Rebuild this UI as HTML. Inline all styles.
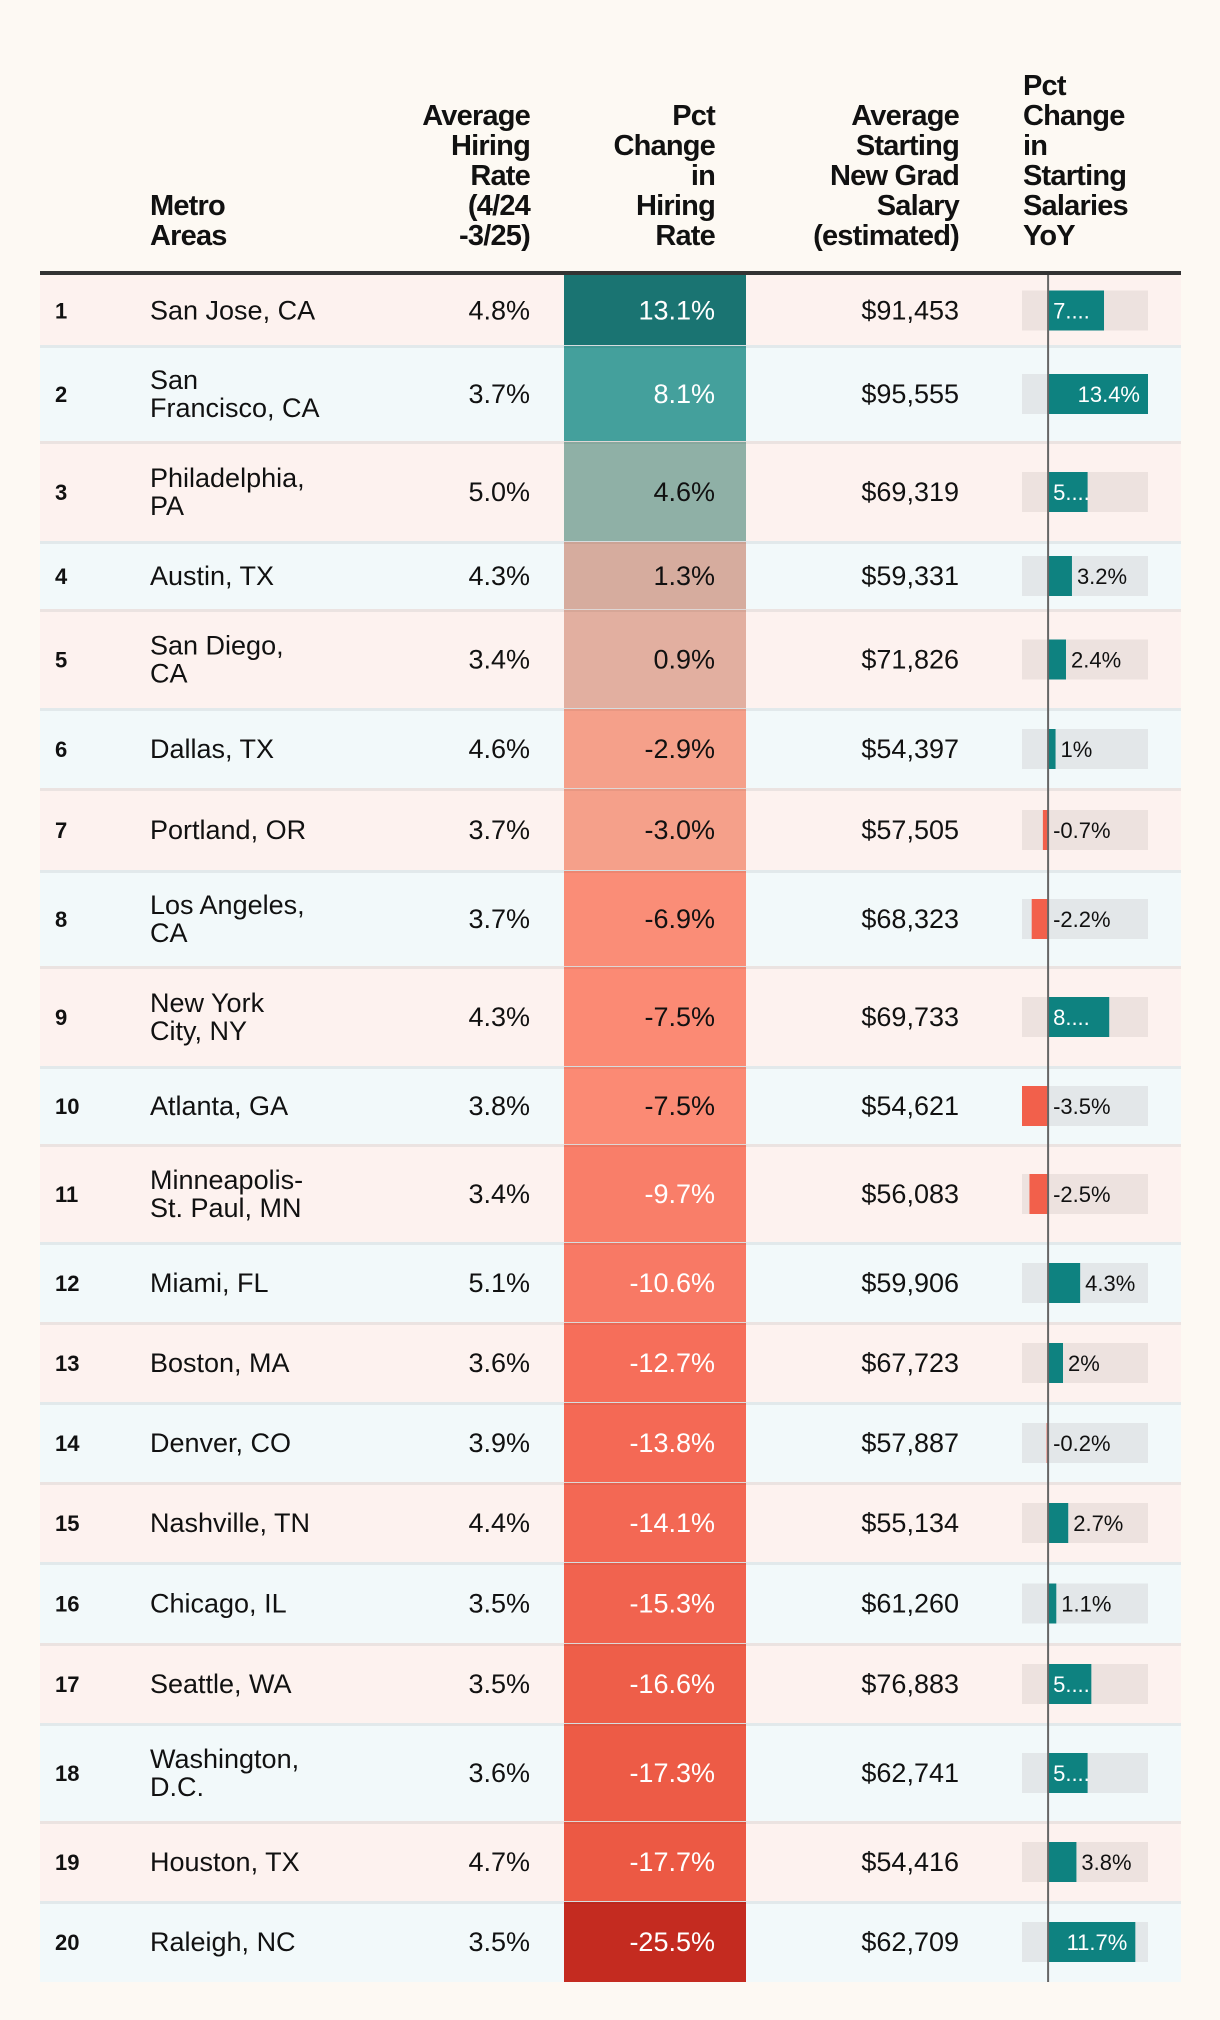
<!DOCTYPE html>
<html><head><meta charset="utf-8">
<style>
html,body{margin:0;padding:0;background:#fdf9f3;}
svg{display:block;font-family:"Liberation Sans",sans-serif;}
</style></head>
<body>
<svg id="chart" width="1220" height="2020" viewBox="0 0 1220 2020" xmlns="http://www.w3.org/2000/svg">
<rect x="0" y="0" width="1220" height="2020" fill="#fdf9f3"/>
<g id="header"></g>
<g id="rows"></g>
</svg>
<script>
const metros = ["San Jose, CA","San\nFrancisco, CA","Philadelphia,\nPA","Austin, TX","San Diego,\nCA","Dallas, TX","Portland, OR","Los Angeles,\nCA","New York\nCity, NY","Atlanta, GA","Minneapolis-\nSt. Paul, MN","Miami, FL","Boston, MA","Denver, CO","Nashville, TN","Chicago, IL","Seattle, WA","Washington,\nD.C.","Houston, TX","Raleigh, NC"];
const hiringRate = [4.8,3.7,5.0,4.3,3.4,4.6,3.7,3.7,4.3,3.8,3.4,5.1,3.6,3.9,4.4,3.5,3.5,3.6,4.7,3.5];
const hiringChange = [13.1,8.1,4.6,1.3,0.9,-2.9,-3.0,-6.9,-7.5,-7.5,-9.7,-10.6,-12.7,-13.8,-14.1,-15.3,-16.6,-17.3,-17.7,-25.5];
const salary = [91453,95555,69319,59331,71826,54397,57505,68323,69733,54621,56083,59906,67723,57887,55134,61260,76883,62741,54416,62709];
const salaryChange = [7.5,13.4,5.3,3.2,2.4,1,-0.7,-2.2,8.2,-3.5,-2.5,4.3,2,-0.2,2.7,1.1,5.8,5.3,3.8,11.7];
const rowBounds = [275,346,442,542,610,709,789,871,967,1067,1145,1243,1323,1403,1483,1563,1644,1724,1822,1902,1982];

const NS="http://www.w3.org/2000/svg";
function mk(tag,attrs,parent,text){const e=document.createElementNS(NS,tag);for(const k in attrs)e.setAttribute(k,attrs[k]);if(text!==undefined)e.textContent=text;parent.appendChild(e);return e;}
const hdr=document.getElementById('header'), body=document.getElementById('rows');

const heads=[
 {lines:["Metro","Areas"],x:150,anchor:"start",name:"header-metro-areas"},
 {lines:["Average","Hiring","Rate","(4/24","-3/25)"],x:530,anchor:"end",name:"header-hiring-rate"},
 {lines:["Pct","Change","in","Hiring","Rate"],x:715,anchor:"end",name:"header-hiring-change"},
 {lines:["Average","Starting","New Grad","Salary","(estimated)"],x:959,anchor:"end",name:"header-salary"},
 {lines:["Pct","Change","in","Starting","Salaries","YoY"],x:1023,anchor:"start",name:"header-salary-change"}
];
heads.forEach(h=>{
  const t=mk('text',{x:h.x,'text-anchor':h.anchor,'font-size':29,'font-weight':'bold',fill:'#111','letter-spacing':'-0.8'},hdr);
  
  
  const n=h.lines.length;
  h.lines.forEach((l,i)=>{mk('tspan',{x:h.x,y:245-(n-1-i)*30},t,l);});
});
const hl=mk('rect',{x:40,y:271,width:1141,height:4,fill:'#333'},hdr);



const barX0=1022,barX1=1148,dMin=-3.5,dMax=13.4;
function xs(v){return barX0+(v-dMin)/(dMax-dMin)*(barX1-barX0);}
function lerp(a,b,t){return a.map((c,i)=>Math.round(c+(b[i]-c)*t));}
function cellColor(v){
  const stops=[[-25.5,[196,43,32]],[-17.7,[236,89,68]],[-12.7,[246,110,90]],[-7.5,[251,138,116]],[-2.9,[245,160,138]],[0.9,[226,175,160]],[1.3,[214,172,158]],[4.6,[143,176,166]],[8.1,[68,160,156]],[13.1,[26,116,114]]];
  if(v<=stops[0][0])return 'rgb('+stops[0][1]+')';
  for(let i=0;i<stops.length-1;i++){if(v<=stops[i+1][0]){const t=(v-stops[i][0])/(stops[i+1][0]-stops[i][0]);return 'rgb('+lerp(stops[i][1],stops[i+1][1],t)+')';}}
  return 'rgb('+stops[stops.length-1][1]+')';
}
function fmtSal(v){return '$'+v.toLocaleString('en-US');}

metros.forEach((m,i)=>{
  const y0=rowBounds[i],y1=rowBounds[i+1],cy=(y0+y1)/2;
  const g=mk('g',{},body);
  
  
  const odd=i%2===0;
  mk('rect',{x:40,y:y0,width:1141,height:y1-y0,fill:odd?'#fdf2ef':'#f2f9fa'},g);
  if(i>0)mk('rect',{x:40,y:y0-1,width:1141,height:3,fill:odd?'#ebe3e1':'#e2e9eb'},g);
  const c=mk('rect',{x:564,y:y0,width:182,height:y1-y0+(i<19?1:0),fill:cellColor(hiringChange[i])},g);
  
  
  if(i>0)mk('rect',{x:564,y:y0-1,width:182,height:3,fill:'rgba(0,0,0,0.05)'},g);
  const rk=mk('text',{x:55,y:cy+8,'font-size':22,'font-weight':'bold',fill:'#111'},g,String(i+1));
  
  
  const lines=m.split('\n');
  const mt=mk('text',{x:150,'font-size':27,fill:'#111'},g);
  
  
  lines.forEach((l,k)=>{mk('tspan',{x:150,y:cy+9+(k-(lines.length-1)/2)*28},mt,l);});
  const hr=mk('text',{x:530,y:cy+9,'font-size':27,'text-anchor':'end',fill:'#111'},g,hiringRate[i].toFixed(1)+'%');
  
  
  const hv=hiringChange[i];
  const white=hv>5||hv<-9;
  const hc=mk('text',{x:715,y:cy+9,'font-size':27,'text-anchor':'end',fill:white?'#fff':'#111'},g,hv.toFixed(1)+'%');
  
  
  const sl=mk('text',{x:959,y:cy+9,'font-size':27,'text-anchor':'end',fill:'#111'},g,fmtSal(salary[i]));
  
  
  const bg=mk('rect',{x:barX0,y:cy-20,width:barX1-barX0,height:40,fill:odd?'#ede2df':'#e3e7e9'},g);
  
  
  const v=salaryChange[i],z=xs(0),xv=xs(v);
  const b=mk('rect',{x:Math.min(z,xv),y:cy-20,width:Math.abs(xv-z),height:40,fill:v>=0?'#0e8280':'#f2604b'},g);
  
  
  let label=(Number.isInteger(v)?v:v.toFixed(1))+'%',lx,fill='#111',anchor='start';
  if(v>=10){lx=xv-8;anchor='end';fill='#fff';}
  else if(v>=5){lx=z+5;fill='#fff';label=String(v)[0]+'....';}
  else{lx=Math.max(z,xv)+5;}
  const bl=mk('text',{x:lx,y:cy+8,'font-size':22,'text-anchor':anchor,fill:fill},g,label);
  
  
});
const zl=mk('rect',{x:xs(0)-1,y:275,width:2,height:1707,fill:'#666'},body);


</script>
</body></html>
